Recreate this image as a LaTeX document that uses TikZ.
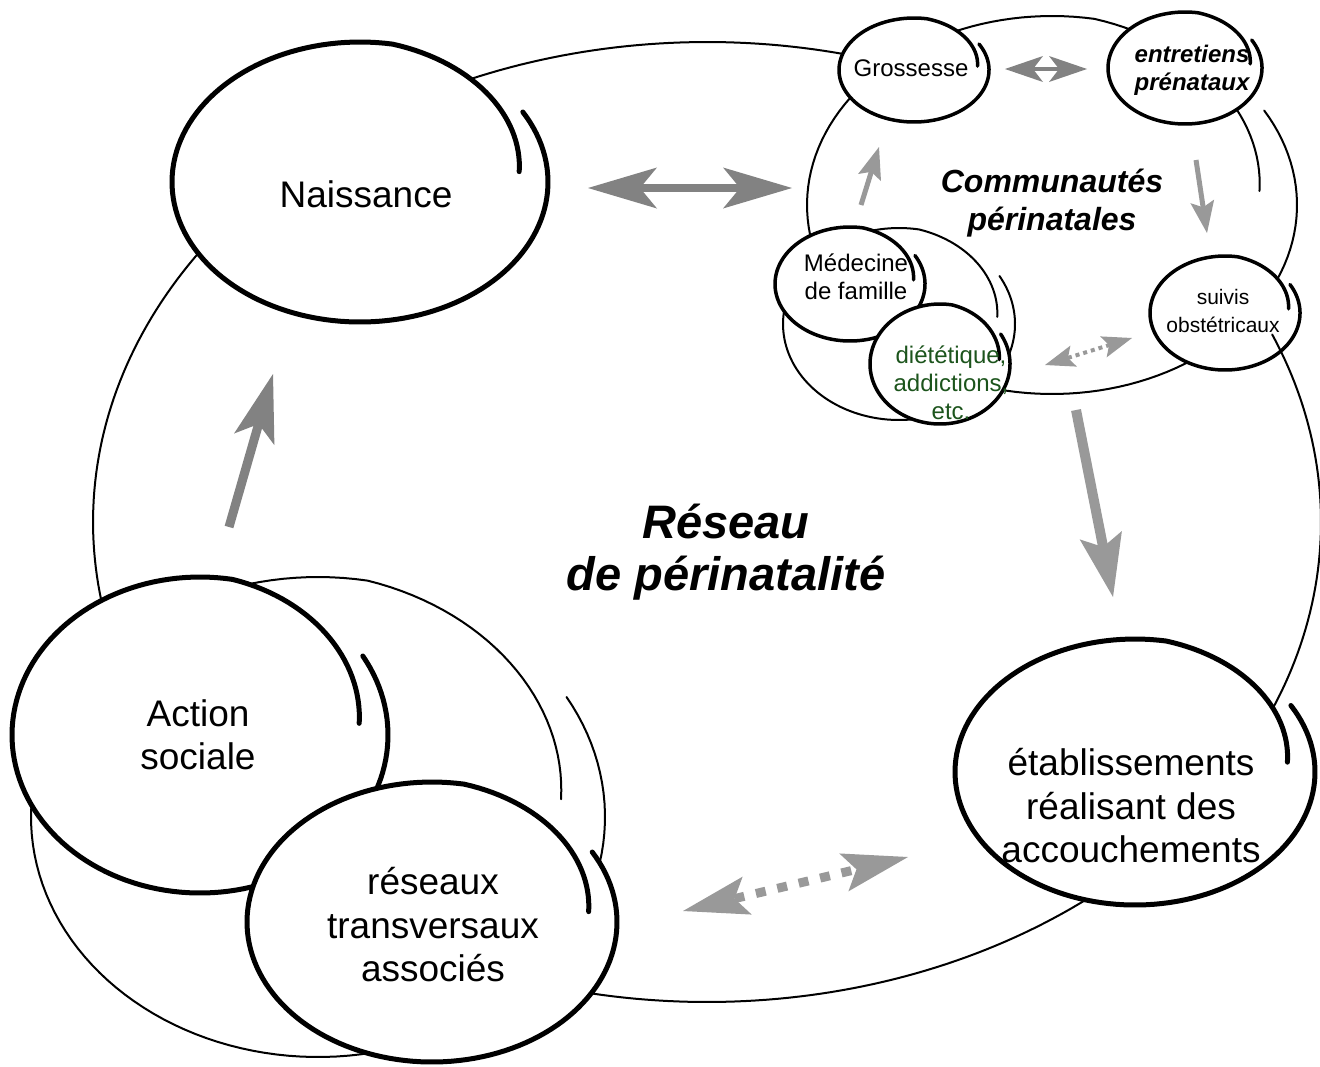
\documentclass[tikz,border=0pt]{standalone}
\usepackage{fontspec}
\setmainfont{Liberation Sans}
\usetikzlibrary{arrows.meta}
\definecolor{agray}{RGB}{130,130,130}
\definecolor{lgray}{RGB}{153,153,153}
\definecolor{dgreen}{RGB}{28,84,28}
\pgfmathdeclarefunction{swf}{1}{\pgfmathparse{1-0.15*max(0,-280-(#1))/75}}
\newcommand{\swoosh}[5]{%
  \fill[white] plot[domain=-355:30, samples=160, variable=\t]
    ({#2+#4*swf(\t)*cos(\t)},{#3-#5*swf(\t)*sin(\t)}) -- cycle;
  \draw[#1] plot[domain=-355:30, samples=160, variable=\t]
    ({#2+#4*swf(\t)*cos(\t)},{#3-#5*swf(\t)*sin(\t)});
}
\tikzset{
  thickline/.style={line width=2.5pt, line cap=round, line join=round},
  medline/.style={line width=1.75pt, line cap=round, line join=round},
  thinline/.style={line width=1pt, line cap=round, line join=round},
  bigtxt/.style={font=\fontsize{18.5}{21.75}\selectfont, align=center, inner sep=0pt},
  smalltxt/.style={font=\fontsize{12}{14}\selectfont, align=center, inner sep=0pt},
  arrbig/.style={draw=agray, line width=4pt,
    {Stealth[length=34.5pt,width=20.5pt,inset=8.5pt,line width=0pt]}-{Stealth[length=34.5pt,width=20.5pt,inset=8.5pt,line width=0pt]}},
  arrup/.style={draw=agray, line width=4.5pt,
    -{Stealth[length=34pt,width=21pt,inset=8pt,line width=0pt]}},
  arrdown/.style={draw=lgray, line width=5pt,
    -{Stealth[length=31.5pt,width=21.5pt,inset=6pt,line width=0pt]}},
  arrdot/.style={draw=lgray, line width=4.5pt, dash pattern=on 5pt off 6pt,
    {Stealth[length=33pt,width=19.5pt,inset=6.5pt,line width=0pt]}-{Stealth[length=33pt,width=19.5pt,inset=6.5pt,line width=0pt]}},
  arrsmall/.style={draw=lgray, line width=2.5pt,
    -{Stealth[length=16pt,width=12pt,inset=3pt,line width=0pt]}},
  arrtwin/.style={draw=agray, line width=2pt,
    {Stealth[length=19pt,width=13pt,inset=5pt,line width=0pt]}-{Stealth[length=19pt,width=13pt,inset=5pt,line width=0pt]}},
  arrsdot/.style={draw=lgray, line width=2pt, dash pattern=on 2pt off 2pt,
    {Stealth[length=15pt,width=11pt,inset=3pt,line width=0pt]}-{Stealth[length=15pt,width=11pt,inset=3pt,line width=0pt]}},
}
\begin{document}
\begin{tikzpicture}[x=0.5pt,y=-0.5pt]
\useasboundingbox (0,0) rectangle (1320,1066);
% big network ellipse
\draw[thinline] plot[domain=-283:23, samples=300, variable=\t] ({707+614*cos(\t)},{522-480*sin(\t)});
% left group
\swoosh{thinline}{318}{817}{287}{240}
\swoosh{thickline}{200}{735}{188}{158}
\swoosh{thickline}{432}{922}{185}{140}
% Naissance
\swoosh{thickline}{360}{182}{188}{140}
% etablissements
\swoosh{thickline}{1135}{772}{180}{133}
% communautes
\swoosh{thinline}{1052}{205}{245}{189}
\swoosh{medline}{914}{70}{75}{52}
\swoosh{medline}{1185}{68}{77}{56}
\swoosh{thinline}{899}{324}{116}{96}
\swoosh{medline}{850}{284}{75}{57}
\swoosh{medline}{940}{364}{70}{60}
\swoosh{medline}{1225}{313}{75}{57}
\begin{scope}
  \clip plot[domain=0:360, samples=60, variable=\t] ({1225+75*cos(\t)},{313-57*sin(\t)}) -- cycle;
  \draw[thinline] plot[domain=-40:23, samples=80, variable=\t] ({707+614*cos(\t)},{522-480*sin(\t)});
\end{scope}
% texts
\node[bigtxt] (nais) at (366,194) {Naissance};
\node[bigtxt] (act) at (198,735) {Action\\sociale};
\node[bigtxt] (etab) at (1131,806) {établissements\\réalisant des\\accouchements};
\node[bigtxt] (res) at (433,925) {réseaux\\transversaux\\associés};
\node[font=\fontsize{23.5}{26}\selectfont\bfseries\itshape, align=center, inner sep=0pt] (reseau) at (726,552) {Réseau\\de périnatalité};
\node[font=\fontsize{16}{19}\selectfont\bfseries\itshape, align=center, inner sep=0pt] (comm) at (1052,203) {Communautés\\périnatales};
\node[smalltxt] (gros) at (911,68) {Grossesse};
\node[smalltxt, font=\fontsize{12}{14}\selectfont\bfseries\itshape] (entr) at (1192,70) {entretiens\\prénataux};
\node[smalltxt] (med) at (856,277) {Médecine\\de famille};
\node[smalltxt, text=dgreen] (diet) at (951,383) {diététique,\\addictions,\\etc.};
\node[font=\fontsize{10.5}{14}\selectfont, align=center, inner sep=0pt] (suiv) at (1223,311) {suivis\\obstétricaux};
% arrow end points
\coordinate (nA) at (588,188);
\coordinate (nB) at (792,188);
\coordinate (uA) at (229,527);
\coordinate (uB) at (273,374);
\coordinate (dA) at (1076,410);
\coordinate (dB) at (1113,597);
\coordinate (pA) at (683,911);
\coordinate (pB) at (908,857);
\coordinate (mA) at (861,205);
\coordinate (mB) at (879,147);
\coordinate (eA) at (1196,160);
\coordinate (eB) at (1207,233);
\coordinate (gA) at (1005,69);
\coordinate (gB) at (1087,69);
\coordinate (sA) at (1045,365);
\coordinate (sB) at (1132,338);
\draw[arrbig] (nA) -- (nB);
\draw[arrup] (uA) -- (uB);
\draw[arrdown] (dA) -- (dB);
\draw[arrdot] (pA) -- (pB);
\draw[arrsmall] (mA) -- (mB);
\draw[arrsmall] (eA) -- (eB);
\draw[arrtwin] (gA) -- (gB);
\draw[arrsdot] (sA) -- (sB);
\end{tikzpicture}
\end{document}
